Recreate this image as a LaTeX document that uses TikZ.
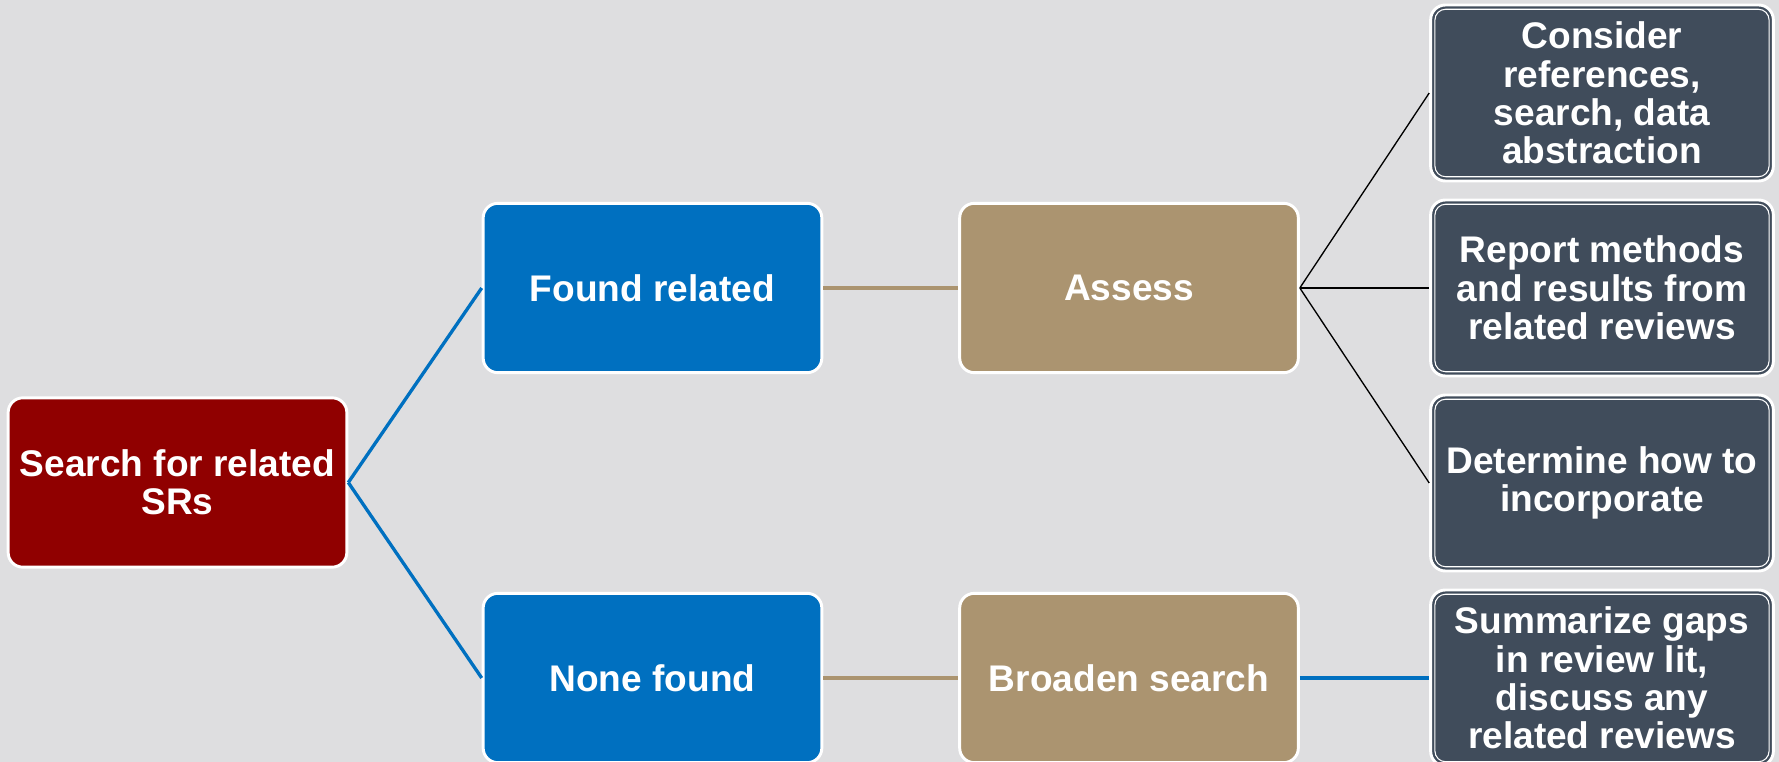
\documentclass[tikz,border=0pt]{standalone}
\usepackage{fontspec}
\setmainfont{Liberation Sans}
\usepackage{tikz}

\definecolor{bggray}{RGB}{222,222,224}
\definecolor{srred}{RGB}{144,0,0}
\definecolor{srblue}{RGB}{0,112,192}
\definecolor{srtan}{RGB}{171,148,112}
\definecolor{srslate}{RGB}{64,76,91}

\tikzset{
  box/.style={draw=white, line width=2.2pt, rounded corners=11pt, text=white,
    font=\fontsize{27.8}{28.8}\selectfont\bfseries, align=center, inner sep=2pt,
    minimum width=254pt, minimum height=127pt},
  redbox/.style={box, fill=srred},
  bluebox/.style={box, fill=srblue},
  tanbox/.style={box, fill=srtan},
  slatebox/.style={box, fill=srslate, minimum width=257pt, minimum height=132pt,
    path picture={\draw[white, line width=0.8pt, rounded corners=8pt]
      ([shift={(3.2pt,3.2pt)}]path picture bounding box.south west) rectangle
      ([shift={(-3.2pt,-3.2pt)}]path picture bounding box.north east);}},
  blueline/.style={draw=srblue, line width=2.5pt},
  tanline/.style={draw=srtan, line width=3pt},
  thinline/.style={draw=black, line width=1pt}
}

\begin{document}
\begin{tikzpicture}[x=0.75pt,y=0.75pt,yscale=-1,xscale=1]

            % Background
            \fill[bggray] (0,0) rectangle (1779,762);
            \useasboundingbox (0,0) rectangle (1779,762);

            % Boxes
            \draw (177.5,482.5) node [redbox] (search) {Search for related\\SRs};
            \draw (652.5,288) node [bluebox] (found) {Found related};
            \draw (652.5,678) node [bluebox] (none) {None found};
            \draw (1129,288) node [tanbox] (assess) {Assess};
            \draw (1129,678) node [tanbox] (broaden) {Broaden search};
            \draw (1602,93) node [slatebox] (consider) {Consider\\references,\\search, data\\abstraction};
            \draw (1602,288) node [slatebox] (report) {Report methods\\and results from\\related reviews};
            \draw (1602,483) node [slatebox] (determine) {Determine how to\\incorporate};
            \draw (1602,678) node [slatebox] (summarize) {Summarize gaps\\in review lit,\\discuss any\\related reviews};

            % Connectors
            \draw[blueline] (search.east) -- (found.west);
            \draw[blueline] (search.east) -- (none.west);
            \draw[tanline] (found.east) -- (assess.west);
            \draw[tanline] (none.east) -- (broaden.west);
            \draw[thinline] (assess.east) -- (consider.west);
            \draw[thinline] (assess.east) -- (report.west);
            \draw[thinline] (assess.east) -- (determine.west);
            \draw[blueline] (broaden.east) -- (summarize.west);

\end{tikzpicture}
\end{document}
